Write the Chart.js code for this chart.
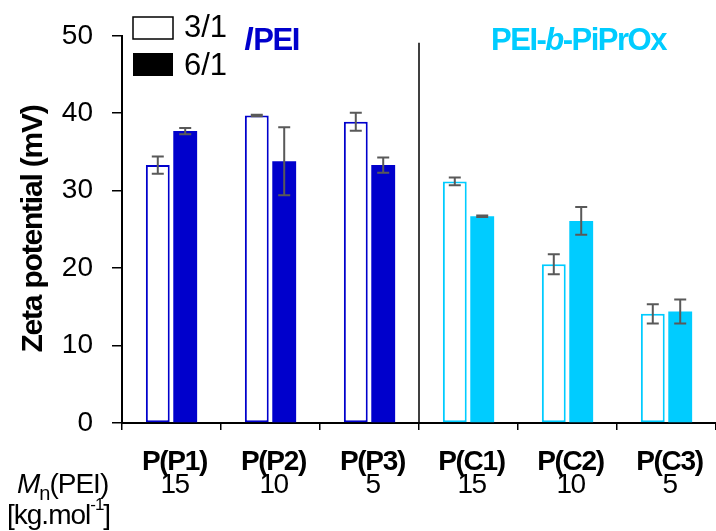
<!DOCTYPE html>
<html>
<head>
<meta charset="utf-8">
<script src="https://cdn.jsdelivr.net/npm/chart.js@4.4.1/dist/chart.umd.min.js"></script>
<style>
  html, body { margin: 0; padding: 0; background: #fff; }
  #wrap { width: 716px; height: 531px; }
</style>
</head>
<body>
<div id="wrap"><canvas id="zetaChart" width="716" height="531"></canvas></div>
<script>
const samples = ['P(P1)', 'P(P2)', 'P(P3)', 'P(C1)', 'P(C2)', 'P(C3)'];
const mnPEI = ['15', '10', '5', '15', '10', '5'];
const ratio31 = [33.3, 39.7, 38.9, 31.2, 20.5, 14.1];
const err31 = [1.1, 0.1, 1.15, 0.5, 1.3, 1.25];
const ratio61 = [37.7, 33.8, 33.3, 26.7, 26.1, 14.4];
const err61 = [0.4, 4.4, 1.0, 0.1, 1.8, 1.55];
const yTicks = [0, 10, 20, 30, 40, 50];

const BLUE = '#0000CC';
const CYAN = '#00CCFF';
const barColors = samples.map((s, i) => i < 3 ? BLUE : CYAN);
const FONT = '"Liberation Sans", Arial, sans-serif';

// error bars, divider, group titles, legend and the two-row x labels
const extras = {
  id: 'extras',
  afterDatasetsDraw(chart) {
    const ctx = chart.ctx;
    const x = chart.scales.x, y = chart.scales.y;
    const area = chart.chartArea;
    const errs = [err31, err61];
    const vals = [ratio31, ratio61];

    ctx.save();
    ctx.strokeStyle = '#595959';
    ctx.lineWidth = 2;
    errs.forEach((err, d) => {
      chart.getDatasetMeta(d).data.forEach((bar, i) => {
        const top = y.getPixelForValue(vals[d][i] + err[i]);
        const bot = y.getPixelForValue(vals[d][i] - err[i]);
        ctx.beginPath();
        ctx.moveTo(bar.x, top); ctx.lineTo(bar.x, bot);
        ctx.moveTo(bar.x - 6, top); ctx.lineTo(bar.x + 6, top);
        ctx.moveTo(bar.x - 6, bot); ctx.lineTo(bar.x + 6, bot);
        ctx.stroke();
      });
    });

    // divider between lPEI and PEI-b-PiPrOx
    const mid = (x.getPixelForValue(2) + x.getPixelForValue(3)) / 2;
    ctx.strokeStyle = '#000';
    ctx.lineWidth = 1.5;
    ctx.beginPath();
    ctx.moveTo(mid, area.top + 7);
    ctx.lineTo(mid, area.bottom);
    ctx.stroke();

    // group titles
    ctx.textBaseline = 'alphabetic';
    ctx.textAlign = 'left';
    ctx.fillStyle = BLUE;
    const leftC = x.getPixelForValue(1);
    ctx.font = 'italic bold 31px ' + FONT;
    ctx.letterSpacing = '-1.5px';
    const lw = ctx.measureText('l').width;
    ctx.font = 'bold 31px ' + FONT;
    const pw = ctx.measureText('PEI').width;
    let sx = leftC - (lw + pw) / 2;
    ctx.font = 'italic bold 31px ' + FONT;
    ctx.fillText('l', sx, 50);
    ctx.font = 'bold 31px ' + FONT;
    ctx.fillText('PEI', sx + lw + 2, 50);

    ctx.fillStyle = CYAN;
    const rightC = x.getPixelForValue(4) + 11;
    const parts = [['PEI-', 'bold'], ['b', 'italic bold'], ['-PiPrOx', 'bold']];
    let tw = 0;
    parts.forEach(p => { ctx.font = p[1] + ' 31px ' + FONT; tw += ctx.measureText(p[0]).width; });
    sx = rightC - tw / 2;
    parts.forEach(p => {
      ctx.font = p[1] + ' 31px ' + FONT;
      ctx.fillText(p[0], sx, 50);
      sx += ctx.measureText(p[0]).width;
    });

    // legend
    ctx.letterSpacing = '0px';
    ctx.lineWidth = 1.5;
    ctx.strokeStyle = '#000';
    ctx.fillStyle = '#fff';
    ctx.fillRect(133, 17, 40, 22);
    ctx.strokeRect(133, 17, 40, 22);
    ctx.fillStyle = '#000';
    ctx.fillRect(133, 53, 40, 23);
    ctx.font = '31px ' + FONT;
    ctx.fillText('3/1', 184, 37);
    ctx.fillText('6/1', 184, 75);

    // x labels
    ctx.textAlign = 'center';
    samples.forEach((s, i) => {
      const cx = x.getPixelForValue(i) + 3;
      ctx.font = 'bold 28px ' + FONT;
      ctx.letterSpacing = '-1.3px';
      ctx.fillText(s, cx, 470);
      ctx.font = '28px ' + FONT;
      ctx.letterSpacing = '-1.5px';
      ctx.fillText(mnPEI[i], cx, 493);
    });

    // Mn(PEI) row header
    ctx.textAlign = 'left';
    ctx.letterSpacing = '-1px';
    ctx.font = 'italic 28px ' + FONT;
    ctx.fillText('M', 17, 493);
    let px = 17 + ctx.measureText('M').width;
    ctx.font = '20px ' + FONT;
    ctx.fillText('n', px, 500);
    px += ctx.measureText('n').width;
    ctx.font = '28px ' + FONT;
    ctx.fillText('(PEI)', px, 493);

    ctx.fillText('[kg.mol', 7, 524);
    px = 7 + ctx.measureText('[kg.mol').width;
    ctx.font = '17px ' + FONT;
    ctx.fillText('-1', px, 510);
    px += ctx.measureText('-1').width;
    ctx.font = '28px ' + FONT;
    ctx.fillText(']', px, 524);

    // y title
    ctx.translate(42, 229);
    ctx.rotate(-Math.PI / 2);
    ctx.textAlign = 'center';
    ctx.font = 'bold 30px ' + FONT;
    ctx.letterSpacing = '-1.2px';
    ctx.fillText('Zeta potential (mV)', 0, 0);
    ctx.restore();
  }
};

new Chart(document.getElementById('zetaChart'), {
  type: 'bar',
  data: {
    labels: samples,
    datasets: [
      {
        label: '3/1',
        data: ratio31,
        backgroundColor: '#FFFFFF',
        borderColor: barColors,
        borderWidth: 2,
        borderSkipped: false
      },
      {
        label: '6/1',
        data: ratio61,
        backgroundColor: barColors,
        borderWidth: 0
      }
    ]
  },
  options: {
    responsive: false,
    animation: false,
    layout: { padding: { top: 33, right: 0, bottom: 0, left: 0 } },
    categoryPercentage: 0.554,
    barPercentage: 0.87,
    plugins: {
      legend: { display: false },
      tooltip: { enabled: false }
    },
    scales: {
      x: {
        ticks: { display: false },
        grid: { display: true, drawOnChartArea: false, tickLength: 7, color: '#000', lineWidth: 1.5 },
        border: { color: '#000', width: 2 },
        afterFit(scale) { scale.height = 108; }
      },
      y: {
        min: 0,
        max: 50,
        afterBuildTicks(scale) { scale.ticks = yTicks.map(v => ({ value: v })); },
        ticks: {
          color: '#000',
          padding: 19,
          font: { family: FONT, size: 28 }
        },
        grid: { drawOnChartArea: false, tickLength: 10, color: '#000', lineWidth: 1.5 },
        border: { color: '#000', width: 2 },
        afterFit(scale) { scale.width = 122; }
      }
    }
  },
  plugins: [extras]
});
</script>
</body>
</html>
